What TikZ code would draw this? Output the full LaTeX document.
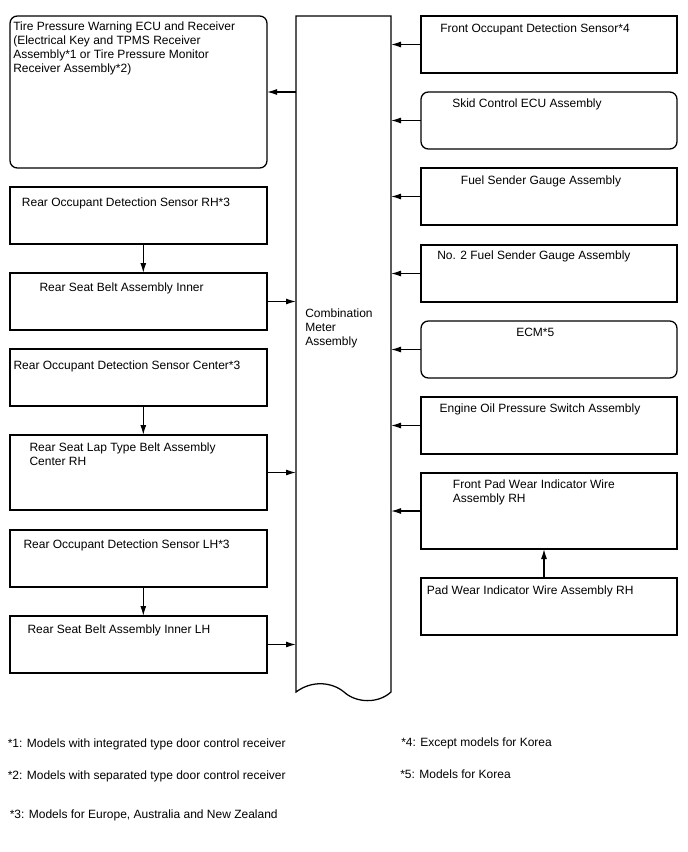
\documentclass[tikz,border=0pt]{standalone}
\usepackage{fontspec}
\setmainfont{Liberation Sans}
\usetikzlibrary{arrows.meta,fit}
\newcommand{\lnstrut}{\rule{0pt}{7pt}}
\begin{document}
\begin{tikzpicture}[x=0.75pt,y=-0.75pt,
  box/.style={draw, line width=0.95pt, inner sep=0pt, outer sep=0pt},
  rbox/.style={box, rounded corners=5.5pt},
  lbl/.style={anchor=north west, inner sep=0pt, align=left, font=\fontsize{9}{10.5}\selectfont},
  arr/.style={line width=0.95pt, -{Latex[length=7.5pt,width=4.5pt]}}]
\useasboundingbox (0,0) rectangle (688,852);

% central column
\node[inner sep=0pt, outer sep=0pt, fit={(296,16) (391,692)}] (meter) {};
\draw[line width=0.95pt] (meter.south west) -- (meter.north west) -- (meter.north east) -- (meter.south east)
  .. controls (378,704) and (356,703) .. (344,692)
  .. controls (332,682) and (312,680) .. (meter.south west) -- cycle;
\node[lbl] (tmeter) at (305,307.4) {\lnstrut Combination\\Meter\\Assembly};

% left boxes
\node[rbox, fit={(10,16) (267,168)}] (tpws) {};
\node[box, fit={(10,187) (267,244)}] (rhs) {};
\node[box, fit={(10,273) (267,330)}] (rhin) {};
\node[box, fit={(10,349) (267,406)}] (ctrs) {};
\node[box, fit={(10,435) (267,510)}] (lap) {};
\node[box, fit={(10,530) (267,587)}] (lhs) {};
\node[box, fit={(10,616) (267,673)}] (lhin) {};

\node[lbl] (ttpws) at (13,20.7) {\lnstrut Tire Pressure Warning ECU and Receiver\\(Electrical Key and TPMS Receiver\\Assembly*1 or Tire Pressure Monitor\\Receiver Assembly*2)};
\node[lbl] (trhs) at (21.7,196.7) {\lnstrut Rear Occupant Detection Sensor RH*3};
\node[lbl] (trhin) at (39.3,281.7) {\lnstrut Rear Seat Belt Assembly Inner};
\node[lbl] (tctrs) at (13.3,359.7) {\lnstrut Rear Occupant Detection Sensor Center*3};
\node[lbl] (tlap) at (29.3,441.7) {\lnstrut Rear Seat Lap Type Belt Assembly\\Center RH};
\node[lbl] (tlhs) at (23.3,539) {\lnstrut Rear Occupant Detection Sensor LH*3};
\node[lbl] (tlhin) at (27.3,624) {\lnstrut Rear Seat Belt Assembly Inner LH};

% right boxes
\node[box, fit={(421,16) (677,73)}] (fo) {};
\node[rbox, fit={(421,92) (677,149)}] (skid) {};
\node[box, fit={(421,168) (677,225)}] (fuel) {};
\node[box, fit={(421,245) (677,302)}] (fuel2) {};
\node[rbox, fit={(421,321) (677,378)}] (ecm) {};
\node[box, fit={(421,397) (677,454)}] (oil) {};
\node[box, fit={(421,473) (677,549)}] (fpad) {};
\node[box, fit={(421,578) (677,635)}] (pad) {};

\node[lbl] (tfo) at (440,22.7) {\lnstrut Front Occupant Detection Sensor*4};
\node[lbl] (tskid) at (452,97.7) {\lnstrut Skid Control ECU Assembly};
\node[lbl] (tfuel) at (460.7,174.7) {\lnstrut Fuel Sender Gauge Assembly};
\node[lbl] (tfuel2) at (437,249.7) {\lnstrut No. 2 Fuel Sender Gauge Assembly};
\node[lbl] (tecm) at (516,326.7) {\lnstrut ECM*5};
\node[lbl] (toil) at (439.3,402.7) {\lnstrut Engine Oil Pressure Switch Assembly};
\node[lbl] (tfpad) at (452.7,478.7) {\lnstrut Front Pad Wear Indicator Wire\\Assembly RH};
\node[lbl] (tpad) at (426.7,584.7) {\lnstrut Pad Wear Indicator Wire Assembly RH};

% arrows
\draw[arr] (tpws.east -| meter.west) -- (tpws.east);
\draw[arr] (rhin.east) -- (rhin.east -| meter.west);
\draw[arr] (lap.east) -- (lap.east -| meter.west);
\draw[arr] (lhin.east) -- (lhin.east -| meter.west);
\draw[arr] ([xshift=3.6pt]rhs.south) -- ([xshift=3.6pt]rhin.north);
\draw[arr] ([xshift=3.6pt]ctrs.south) -- ([xshift=3.6pt]lap.north);
\draw[arr] ([xshift=3.6pt]lhs.south) -- ([xshift=3.6pt]lhin.north);

\foreach \b in {fo,skid,fuel,fuel2,ecm,oil,fpad}
  \draw[arr] (\b.west) -- (\b.west -| meter.east);
\draw[arr] ([xshift=-3.75pt]pad.north) -- ([xshift=-3.75pt]fpad.south);

% footnotes
\node[lbl] (n1) at (7.5,737.7) {\lnstrut *1: Models with integrated type door control receiver};
\node[lbl] (n2) at (7.5,769.7) {\lnstrut *2: Models with separated type door control receiver};
\node[lbl] (n3) at (9.5,808.7) {\lnstrut *3: Models for Europe, Australia and New Zealand};
\node[lbl] (n4) at (401,736.7) {\lnstrut *4: Except models for Korea};
\node[lbl] (n5) at (400,768.7) {\lnstrut *5: Models for Korea};
\end{tikzpicture}
\end{document}
